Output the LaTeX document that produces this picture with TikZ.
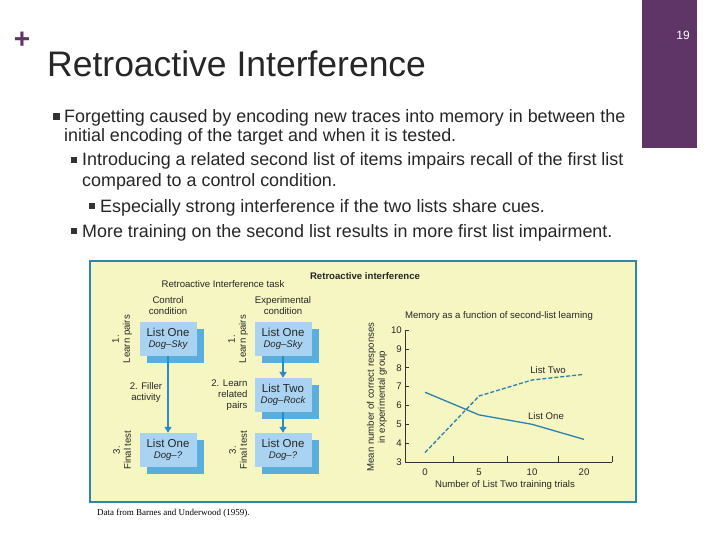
\documentclass[tikz,border=0pt]{standalone}
\usepackage{fontspec}
\setmainfont{Liberation Sans}
\newfontfamily\serifcap{Liberation Serif}
\usetikzlibrary{arrows.meta}
\definecolor{plum}{HTML}{5E3566}
\definecolor{figbg}{HTML}{F6F6C2}
\definecolor{figedge}{HTML}{2F86A8}
\definecolor{boxfill}{HTML}{A9D3F0}
\definecolor{boxshade}{HTML}{5AAEDC}
\definecolor{arrowblue}{HTML}{2A8BC8}
\definecolor{plotline}{HTML}{2C7FB0}
\begin{document}
\begin{tikzpicture}[x=1pt,y=-1pt,
  bodytext/.style={anchor=base west,font=\fontsize{17.9}{20}\selectfont,text=black!85,inner sep=0},
  bul/.style={fill=black!80,minimum size=6pt,inner sep=0},
  fig/.style={font=\fontsize{9.6}{11}\selectfont,text=black!85,align=center},
  listbox/.style={fill=boxfill,minimum width=57pt,minimum height=34pt,inner sep=1pt,align=center,font=\fontsize{11.5}{12.5}\selectfont,text=black!85},
  shade/.style={fill=boxshade,minimum width=57pt,minimum height=34pt},
  flow/.style={arrowblue,line width=2.2pt,-{Triangle[length=6pt,width=7pt]}},
  rot/.style={fig,rotate=90}]
\useasboundingbox (0,0) rectangle (720,540);
\fill[white] (0,0) rectangle (720,540);
\fill[plum] (642,0) rectangle (697,148);
\node[text=white,font=\fontsize{12}{12}\selectfont] (pg) at (683,35) {19};
\node[text=plum,font=\bfseries\fontsize{28}{28}\selectfont] (plus) at (22,40) {+};
\node[anchor=base west,font=\fontsize{35.5}{38}\selectfont,text=black!85,inner sep=0] (title) at (47,77) {Retroactive Interference};
% bullets
\node[bul,minimum size=7pt] (b1) at (56,117) {};
\node[bodytext] (t1) at (64,123) {Forgetting caused by encoding new traces into memory in between the};
\node[bodytext] (t1b) at (64,142) {initial encoding of the target and when it is tested.};
\node[bul] (b2) at (74,160) {};
\node[bodytext] (t2) at (82,166) {Introducing a related second list of items impairs recall of the first list};
\node[bodytext] (t2b) at (82,187) {compared to a control condition.};
\node[bul] (b3) at (92,206) {};
\node[bodytext] (t3) at (100,212) {Especially strong interference if the two lists share cues.};
\node[bul] (b4) at (74,231) {};
\node[bodytext] (t4) at (82,237) {More training on the second list results in more first list impairment.};
% figure
\draw[figedge,fill=figbg,line width=1.5pt] (90,261) rectangle (636,502);
\node[anchor=base west,font=\serifcap\fontsize{9}{10}\selectfont,inner sep=0] (cap) at (97,515) {Data from Barnes and Underwood (1959).};
\node[fig,font=\bfseries\fontsize{9.6}{10}\selectfont] (rt) at (365,276) {Retroactive interference};
\node[fig] (task) at (223,284) {Retroactive Interference task};
\node[fig] (ctl) at (168,306) {Control\\condition};
\node[fig] (exp) at (283,306) {Experimental\\condition};
% boxes
\foreach \n/\x/\y/\a/\b in {c1/168/339/List One/Dog--Sky, c3/168/450/List One/Dog--?, e1/283/339/List One/Dog--Sky, e2/283/395/List Two/Dog--Rock, e3/283/450/List One/Dog--?}{
  \node[shade] at (\x+7,\y+7) {};
  \node[listbox] (\n) at (\x,\y) {\a\\[-1pt]{\fontsize{9.6}{10}\selectfont\itshape \b}};
}
\draw[flow] (c1) -- (c3);
\draw[flow] (e1) -- (e2);
\draw[flow] (e2) -- (e3);
\node[rot] (l1) at (122,339) {1.\\Learn pairs};
\node[rot] (l3) at (122,450) {3.\\Final test};
\node[rot] (l1e) at (238,339) {1.\\Learn pairs};
\node[rot] (l3e) at (238,450) {3.\\Final test};
\node[fig] (fill) at (146,393) {2. Filler\\activity};
\node[fig,align=right,anchor=east] (lrp) at (251,395) {2. Learn\\related\\pairs};
% graph
\node[fig] (gt) at (499,316) {Memory as a function of second-list learning};
\draw[black!80,line width=0.8pt] (405,330) -- (405,462) -- (612,462);
\foreach \v in {3,...,10}{
  \draw[black!80,line width=0.6pt] (405,{462-(\v-3)*18.85}) -- (409,{462-(\v-3)*18.85});
  \node[fig,anchor=east,inner sep=1pt] at (403,{462-(\v-3)*18.85}) {\v};
}
\foreach \x in {453,507,558,612}{\draw[black!80,line width=0.6pt] (\x,462) -- (\x,456);}
\foreach \x/\l in {425/0,479/5,532/10,584/20}{\node[fig] at (\x,472) {\l};}
\node[fig] (xl) at (505,485) {Number of List Two training trials};
\node[rot] (yl) at (377,397) {Mean number of correct responses\\in experimental group};
\draw[plotline,line width=1.3pt] (425,{462-3.7*18.85}) -- (479,{462-2.5*18.85}) -- (532,{462-2.0*18.85}) -- (584,{462-1.2*18.85});
\draw[plotline,line width=1.3pt,dash pattern=on 4pt off 2pt] (425,{462-0.5*18.85}) -- (479,{462-3.5*18.85}) -- (532,{462-4.35*18.85}) -- (584,{462-4.65*18.85});
\node[fig] (ltwo) at (548,370) {List Two};
\node[fig] (lone) at (546,416) {List One};
\end{tikzpicture}
\end{document}
